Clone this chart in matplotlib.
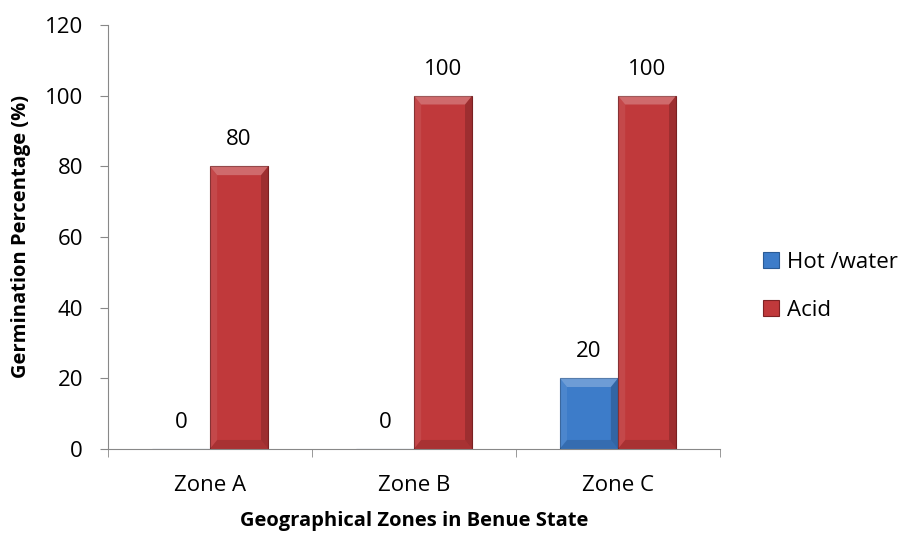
import numpy as np
import matplotlib.pyplot as plt
from matplotlib.patches import Polygon

# data
zones = ['Zone A', 'Zone B', 'Zone C']
hot_water = [0, 0, 20]
acid = [80, 100, 100]
series_names = ['Hot /water', 'Acid']

blue = '#3d7cc9'
red = '#c0393b'
FS = 16      # tick / value / legend text
FS_T = 14.5  # bold axis titles

plt.rcParams['font.family'] = ['Open Sans', 'DejaVu Sans']

fig = plt.figure(figsize=(9.04, 5.33), dpi=100)
ax = fig.add_axes([0.1195, 0.158, 0.677, 0.795])

x = np.arange(len(zones))
w = 0.285


def bevel(ax, x0, x1, h):
    # light top facet + darker sides, to mimic the bevelled office look
    if h <= 0:
        return
    d = min(0.035, (x1 - x0) / 4)
    dy = min(2.5, h / 3)
    ax.add_patch(Polygon([[x0, h], [x1, h], [x1 - d, h - dy], [x0 + d, h - dy]],
                         closed=True, facecolor='white', alpha=0.25, lw=0))
    ax.add_patch(Polygon([[x1, h], [x1, 0], [x1 - d, dy], [x1 - d, h - dy]],
                         closed=True, facecolor='black', alpha=0.18, lw=0))
    ax.add_patch(Polygon([[x0, h], [x0, 0], [x0 + d, dy], [x0 + d, h - dy]],
                         closed=True, facecolor='white', alpha=0.08, lw=0))
    ax.add_patch(Polygon([[x0, 0], [x1, 0], [x1 - d, dy], [x0 + d, dy]],
                         closed=True, facecolor='black', alpha=0.12, lw=0))


b1 = ax.bar(x, hot_water, w, align='edge', color=blue, edgecolor='#2a5b96',
            linewidth=0.8, label=series_names[0])
b2 = ax.bar(x + w, acid, w, align='edge', color=red, edgecolor='#7e2224',
            linewidth=0.8, label=series_names[1])
for i in range(len(zones)):
    bevel(ax, x[i], x[i] + w, hot_water[i])
    bevel(ax, x[i] + w, x[i] + 2 * w, acid[i])

for bars, vals in ((b1, hot_water), (b2, acid)):
    for r, v in zip(bars, vals):
        ax.annotate(f'{v}', (r.get_x() + r.get_width() / 2, v),
                    xytext=(0, 19), textcoords='offset points',
                    ha='center', va='center', fontsize=FS, color='black')

ax.set_xlim(-0.5 + w, len(zones) - 0.5 + w)
ax.set_ylim(0, 120)
ax.set_yticks(range(0, 121, 20))
ax.set_xticks(x + w)
ax.set_xticklabels(zones)
ax.set_xticks(np.arange(len(zones) + 1) - 0.5 + w, minor=True)
ax.tick_params(axis='x', which='major', length=0, pad=19, labelsize=FS)
ax.tick_params(axis='x', which='minor', length=6, color='#888888', direction='out')
ax.tick_params(axis='y', length=6, color='#888888', labelsize=FS, pad=12)

for s in ['top', 'right']:
    ax.spines[s].set_visible(False)
for s in ['left', 'bottom']:
    ax.spines[s].set_color('#888888')

ax.set_xlabel('Geographical Zones in Benue State', fontsize=FS_T,
              fontweight='bold', labelpad=11)
ax.set_ylabel('Germination Percentage (%)', fontsize=FS_T,
              fontweight='bold', labelpad=10)

leg = fig.legend(handles=[b1, b2], labels=series_names, loc='center left',
                 bbox_to_anchor=(0.832, 0.463), frameon=False, fontsize=FS,
                 handlelength=0.7, handleheight=0.7, handletextpad=0.35,
                 labelspacing=1.2, borderpad=0)

fig.savefig('out.png', dpi=100)
